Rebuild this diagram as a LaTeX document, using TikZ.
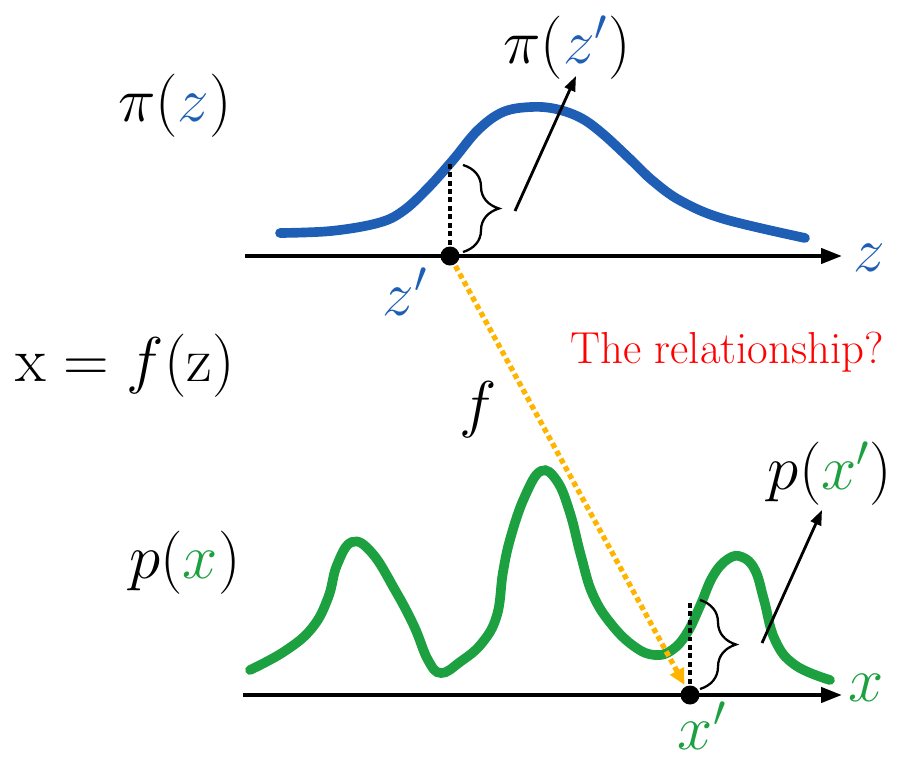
\RequirePackage{fix-cm}
\documentclass[tikz,border=0pt]{standalone}
\usepackage{tikz}
\usetikzlibrary{positioning,arrows.meta,decorations.pathreplacing}
\usepackage{amsmath,amssymb}
\definecolor{zblue}{RGB}{30,94,180}
\definecolor{xgreen}{RGB}{28,160,64}
\definecolor{fgold}{RGB}{255,180,0}

\begin{document}
\begin{tikzpicture}[
  x=0.02cm, y=-0.02cm,
  line width=2.2pt,
  every node/.style={font=\fontsize{36}{40}\selectfont,inner sep=0pt},
  axis/.style={line width=2.4pt,-{Triangle[length=0.42cm,width=0.3cm]}},
  density/.style={line width=5.5pt,line cap=round},
  dot/.style={circle,fill=black,inner sep=0pt,minimum size=0.38cm},
  level/.style={line width=2.8pt,dotted},
  bracket/.style={line width=1.3pt,decorate,decoration={brace,amplitude=0.72cm}},
  pointer/.style={line width=1.6pt,-{Triangle[length=0.3cm,width=0.22cm]}}
]
\useasboundingbox (0,0) rectangle (901,758);

% upper: prior on z
\begin{scope}
  \coordinate (zstart) at (245,256);
  \coordinate (zend) at (842,256);
  \draw[axis] (zstart) -- (zend);
  \node[text=zblue] (zlab) at (869,258) {$z$};

  \draw[density,zblue] plot[smooth,tension=0.6] coordinates {
    (280,233) (331,231) (378,223) (403,211) (428,188) (453,160)
    (478,130) (503,112) (531,107) (556,109) (581,118) (603,134)
    (631,160) (653,181) (681,201) (724,219) (805,238)};

  \node[dot] (zp) at (450,256) {};
  \coordinate (ztop) at (450,163);
  \draw[level] (zp) -- (ztop);
  \draw[bracket] (463,165) -- (463,252);
  \coordinate (ztip) at (515,211);

  \node (pizp) at (567,48) {$\pi(\textcolor{zblue}{z'})$};
  \draw[pointer] (ztip) -- (576,76);
  \node (piz) at (175,106) {$\pi(\textcolor{zblue}{z})$};
  \node[text=zblue] (zplab) at (405,292) {$z'$};
\end{scope}

% the mapping
\node (map) at (125,366) {$\mathrm{x} = f(\mathrm{z})$};
\node (flab) at (478,410) {$f$};
\node[text=red,font=\fontsize{25.5}{29}\selectfont] (rel) at (727,352) {The relationship?};

% lower: density of x
\begin{scope}
  \coordinate (xstart) at (243,695);
  \coordinate (xend) at (842,695);
  \draw[axis] (xstart) -- (xend);
  \node[text=xgreen] (xlab) at (866,688) {$x$};

  \draw[density,xgreen] plot[smooth,tension=0.7] coordinates {
    (250,670) (285,651) (312,628) (328,598) (337,565) (352,542)
    (372,553) (395,590) (414,626) (428,660) (441,673) (460,662)
    (482,643) (497,615) (503,572) (511,536) (525,496) (541,471)
    (557,481) (570,513) (581,556) (593,595) (612,625) (635,647)
    (655,655) (672,650) (687,633) (700,606) (713,576) (728,559)
    (742,557) (755,570) (764,600) (775,640) (795,665) (830,680)};

  \node[dot] (xp) at (690,695) {};
  \coordinate (xtop) at (690,600);
  \draw[level] (xp) -- (xtop);
  \draw[bracket] (700,600) -- (700,689);
  \coordinate (xtip) at (762,643);

  \node (pxp) at (830,474) {$p(\textcolor{xgreen}{x'})$};
  \draw[pointer] (xtip) -- (822,510);
  \node (px) at (185,563) {$p(\textcolor{xgreen}{x})$};
  \node[text=xgreen] (xplab) at (702,726) {$x'$};
\end{scope}

\draw[fgold,line width=3pt,dotted,-{Triangle[length=0.32cm,width=0.3cm]}]
  (zp) -- (xp);

\end{tikzpicture}
\end{document}
